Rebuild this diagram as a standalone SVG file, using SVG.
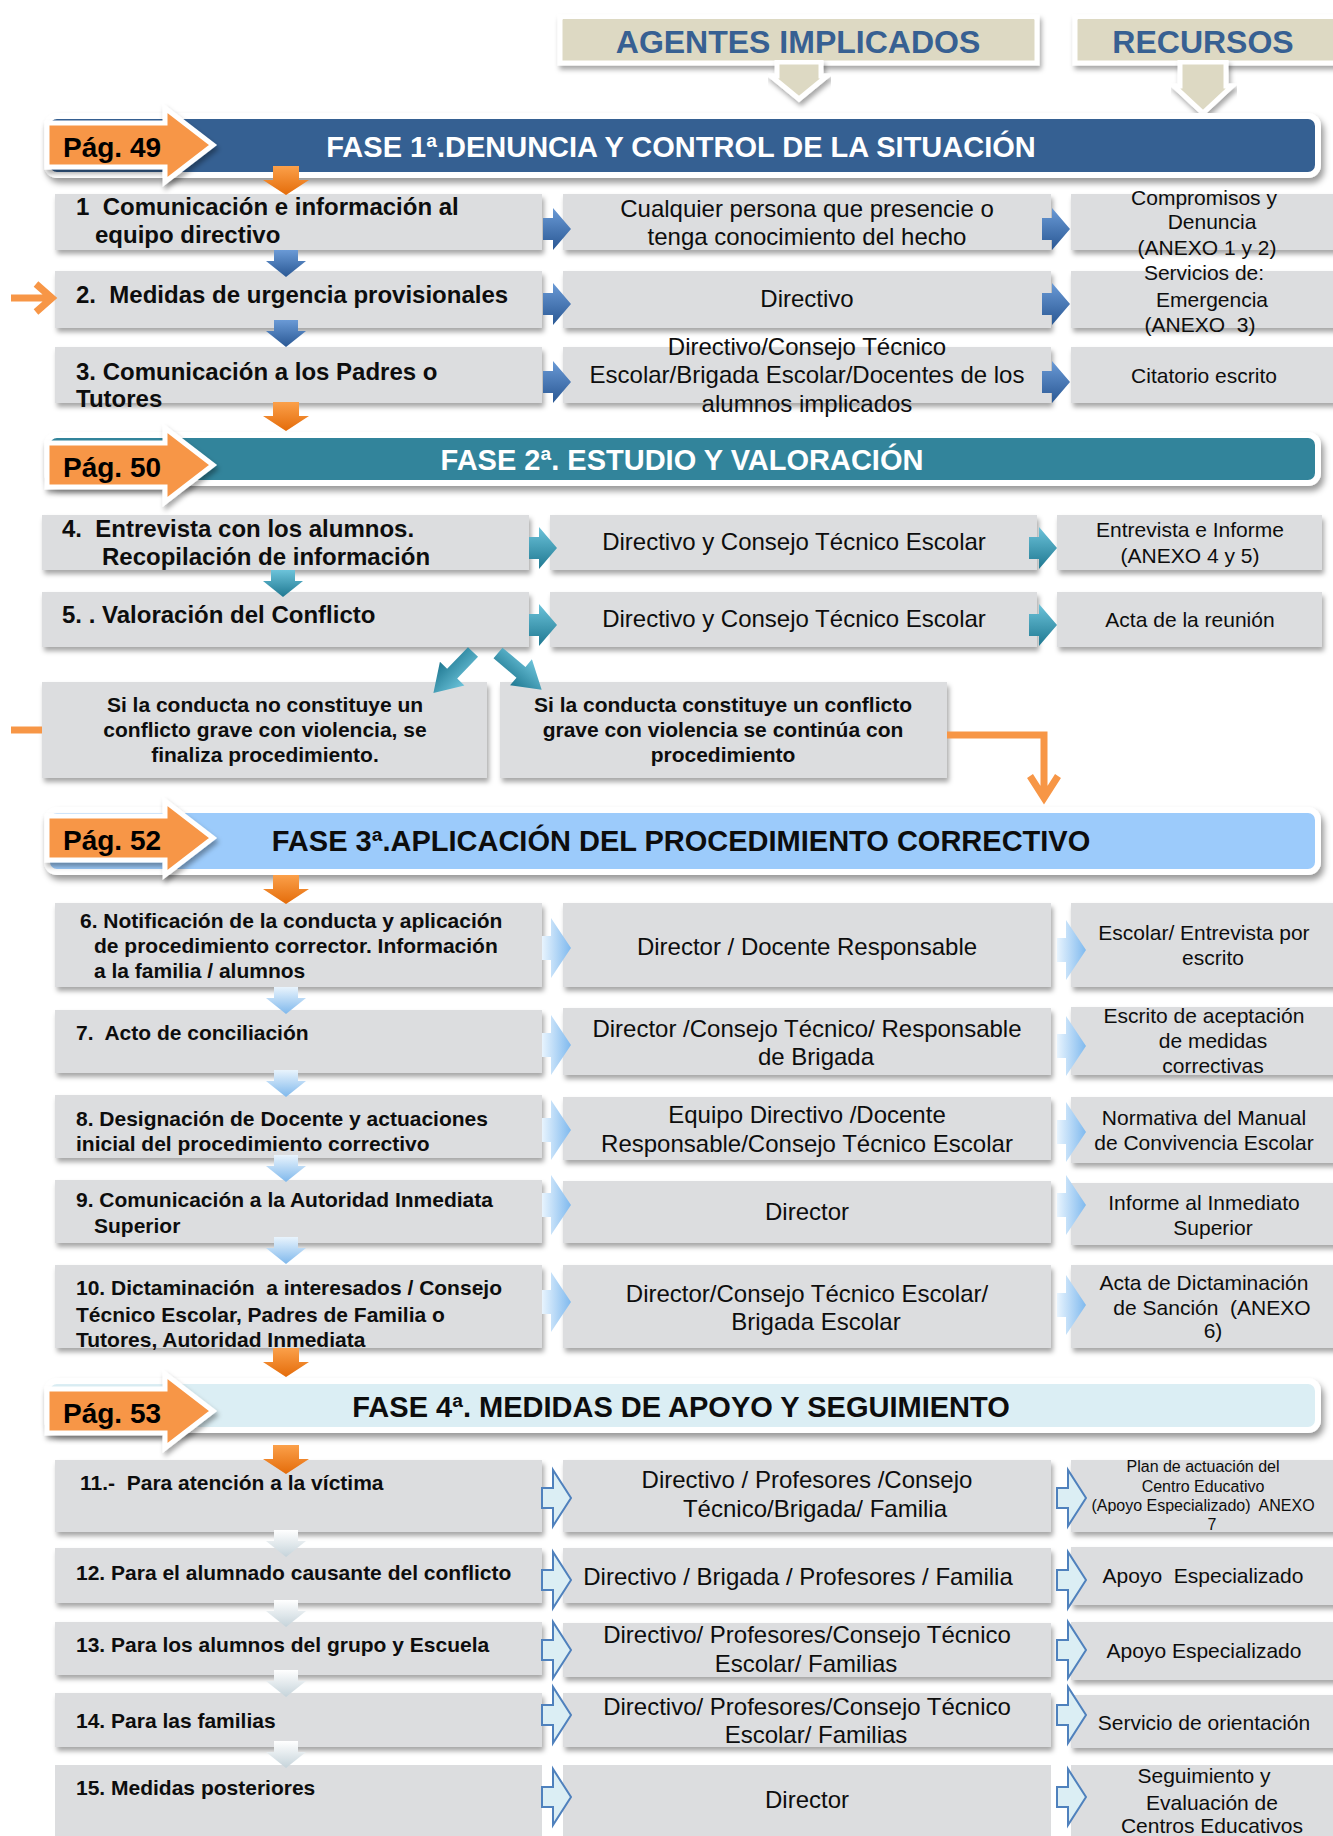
<svg xmlns="http://www.w3.org/2000/svg" width="1333" height="1836" viewBox="0 0 1333 1836" xml:space="preserve">
<style>
text{font-family:"Liberation Sans",Arial,sans-serif;fill:#0d0d0d;white-space:pre}
.b24{font-size:24px;font-weight:bold}
.b21{font-size:21px;font-weight:bold}
.m{font-size:24px;text-anchor:middle}
.r{font-size:21px;text-anchor:middle}
.r16{font-size:16px;text-anchor:middle}
.dc{font-size:21px;font-weight:bold;text-anchor:middle}
.ttl{font-size:29px;font-weight:bold;text-anchor:middle}
.pag{font-size:28px;font-weight:bold;fill:#000}
.hdr{font-size:32px;font-weight:bold;fill:#376092;text-anchor:middle}
.box{fill:#dcdddf}
.ban{stroke:#fff;stroke-width:6}
.hbox{fill:#ddd9c3;stroke:#fff;stroke-width:5}
.or{fill:none;stroke:#f79646;stroke-width:7}
</style>
<defs>
<filter id="sh" x="-5%" y="-20%" width="112%" height="160%"><feDropShadow dx="2" dy="4" stdDeviation="2.5" flood-color="#000" flood-opacity="0.35"/></filter>
<filter id="shb" x="-5%" y="-30%" width="112%" height="170%"><feDropShadow dx="3" dy="5" stdDeviation="3" flood-color="#000" flood-opacity="0.4"/></filter>
<linearGradient id="gBlue" x1="0" y1="0" x2="0" y2="1"><stop offset="0" stop-color="#6a9ad6"/><stop offset="1" stop-color="#2a5894"/></linearGradient>
<linearGradient id="gTeal" x1="0" y1="0" x2="0" y2="1"><stop offset="0" stop-color="#6cc3da"/><stop offset="1" stop-color="#1f7891"/></linearGradient>
<linearGradient id="gLb" x1="0" y1="0" x2="1" y2="0"><stop offset="0" stop-color="#e8f4fe"/><stop offset="1" stop-color="#7fb9ee"/></linearGradient>
<linearGradient id="gLbd" x1="0" y1="0" x2="0" y2="1"><stop offset="0" stop-color="#e9f4fd"/><stop offset="1" stop-color="#7fb8ec"/></linearGradient>
<linearGradient id="gOr" x1="0" y1="0" x2="0" y2="1"><stop offset="0" stop-color="#fba04a"/><stop offset="1" stop-color="#e46c0a"/></linearGradient>
<linearGradient id="gWh" x1="0" y1="0" x2="0" y2="1"><stop offset="0" stop-color="#ffffff"/><stop offset="1" stop-color="#c5d3da"/></linearGradient>
<path id="aR" d="M0,-11H10V-21L28,0L10,21V11H0Z"/>
<path id="aRt" d="M0,-12H9V-30L29,0L9,30V12H0Z"/>
<path id="aRo" d="M0,-10H11V-28L29,0L11,28V10H0Z"/>
<path id="aD" d="M-12,0H12V11H20L0,27L-20,11H-12Z"/>
<path id="aO" d="M-13,0H13V14H23L0,29L-23,14H-13Z"/>
<path id="aDg" d="M0,-7H30V-17L57,0L30,17V7H0Z"/>
<path id="pag" d="M0,-22H118V-37L166,0L118,37V22H0Z"/>
</defs>

<!-- headers -->
<g id="hdr-agentes">
<rect class="hbox" x="560" y="17" width="477" height="46" filter="url(#sh)"/>
<polygon class="hbox" points="777,62 821,62 821,76 827,76 799,99 771,76 777,76" stroke-width="4" filter="url(#sh)"/>
<rect x="563" y="19" width="471" height="41" fill="#ddd9c3"/>
<text class="hdr" x="798" y="53">AGENTES IMPLICADOS</text>
</g>
<g id="hdr-recursos">
<rect class="hbox" x="1075" y="17" width="275" height="46" filter="url(#sh)"/>
<polygon class="hbox" points="1180,62 1226,62 1226,86 1232,86 1203,113 1174,86 1180,86" stroke-width="4" filter="url(#sh)"/>
<rect x="1078" y="19" width="270" height="41" fill="#ddd9c3"/>
<text class="hdr" x="1203" y="53">RECURSOS</text>
</g>

<!-- FASE 1 -->
<g id="fase1">
<rect class="ban" x="47" y="116" width="1271" height="59" rx="10" fill="#366092" filter="url(#shb)"/>
<text class="ttl" x="681" y="157" style="fill:#fff">FASE 1ª.DENUNCIA Y CONTROL DE LA SITUACIÓN</text>
<use href="#pag" x="47" y="145" fill="#f79646" stroke="#fff" stroke-width="5" filter="url(#sh)"/>
<text class="pag" x="63" y="157">Pág. 49</text>
</g>
<g id="n1"><rect class="box" x="55" y="194" width="487" height="56" filter="url(#sh)"/>
<text class="b24" x="76" y="215">1  Comunicación e información al</text>
<text class="b24" x="95" y="243">equipo directivo</text></g>
<g id="n1a"><rect class="box" x="563" y="194" width="488" height="56" filter="url(#sh)"/>
<text class="m" x="807" y="217">Cualquier persona que presencie o</text>
<text class="m" x="807" y="245">tenga conocimiento del hecho</text></g>
<g id="n1r"><rect class="box" x="1071" y="194" width="280" height="56" filter="url(#sh)"/>
<text class="r" x="1204" y="205">Compromisos y</text>
<text class="r" x="1212" y="229">Denuncia</text>
<text class="r" x="1207" y="255">(ANEXO 1 y 2)</text></g>

<g id="n2"><rect class="box" x="55" y="271" width="487" height="57" filter="url(#sh)"/>
<text class="b24" x="76" y="303">2.  Medidas de urgencia provisionales</text></g>
<g id="n2a"><rect class="box" x="563" y="271" width="488" height="57" filter="url(#sh)"/>
<text class="m" x="807" y="307">Directivo</text></g>
<g id="n2r"><rect class="box" x="1071" y="271" width="280" height="57" filter="url(#sh)"/>
<text class="r" x="1204" y="280">Servicios de:</text>
<text class="r" x="1212" y="307">Emergencia</text>
<text class="r" x="1200" y="332">(ANEXO  3)</text></g>

<g id="n3"><rect class="box" x="55" y="347" width="487" height="56" filter="url(#sh)"/>
<text class="b24" x="76" y="380">3. Comunicación a los Padres o</text>
<text class="b24" x="76" y="407">Tutores</text></g>
<g id="n3a"><rect class="box" x="563" y="347" width="488" height="56" filter="url(#sh)"/>
<text class="m" x="807" y="355">Directivo/Consejo Técnico</text>
<text class="m" x="807" y="383">Escolar/Brigada Escolar/Docentes de los</text>
<text class="m" x="807" y="412">alumnos implicados</text></g>
<g id="n3r"><rect class="box" x="1071" y="347" width="280" height="56" filter="url(#sh)"/>
<text class="r" x="1204" y="383">Citatorio escrito</text></g>

<!-- FASE 2 -->
<g id="fase2">
<rect class="ban" x="47" y="435" width="1271" height="48" rx="10" fill="#31849b" filter="url(#shb)"/>
<text class="ttl" x="682" y="470" style="fill:#fff">FASE 2ª. ESTUDIO Y VALORACIÓN</text>
<use href="#pag" x="47" y="465" fill="#f79646" stroke="#fff" stroke-width="5" filter="url(#sh)"/>
<text class="pag" x="63" y="477">Pág. 50</text>
</g>
<g id="n4"><rect class="box" x="42" y="515" width="487" height="55" filter="url(#sh)"/>
<text class="b24" x="62" y="537">4.  Entrevista con los alumnos.</text>
<text class="b24" x="102" y="565">Recopilación de información</text></g>
<g id="n4a"><rect class="box" x="550" y="515" width="487" height="55" filter="url(#sh)"/>
<text class="m" x="794" y="550">Directivo y Consejo Técnico Escolar</text></g>
<g id="n4r"><rect class="box" x="1057" y="515" width="265" height="55" filter="url(#sh)"/>
<text class="r" x="1190" y="537">Entrevista e Informe</text>
<text class="r" x="1190" y="563">(ANEXO 4 y 5)</text></g>
<g id="n5"><rect class="box" x="42" y="592" width="487" height="55" filter="url(#sh)"/>
<text class="b24" x="62" y="623">5. . Valoración del Conflicto</text></g>
<g id="n5a"><rect class="box" x="550" y="592" width="487" height="55" filter="url(#sh)"/>
<text class="m" x="794" y="627">Directivo y Consejo Técnico Escolar</text></g>
<g id="n5r"><rect class="box" x="1057" y="592" width="265" height="55" filter="url(#sh)"/>
<text class="r" x="1190" y="627">Acta de la reunión</text></g>
<g id="d1"><rect class="box" x="42" y="682" width="445" height="96" filter="url(#sh)"/>
<text class="dc" x="265" y="712">Si la conducta no constituye un</text>
<text class="dc" x="265" y="737">conflicto grave con violencia, se</text>
<text class="dc" x="265" y="762">finaliza procedimiento.</text></g>
<g id="d2"><rect class="box" x="500" y="682" width="447" height="96" filter="url(#sh)"/>
<text class="dc" x="723" y="712">Si la conducta constituye un conflicto</text>
<text class="dc" x="723" y="737">grave con violencia se continúa con</text>
<text class="dc" x="723" y="762">procedimiento</text></g>

<!-- FASE 3 -->
<g id="fase3">
<rect class="ban" x="47" y="810" width="1271" height="62" rx="10" fill="#9ccbfb" filter="url(#shb)"/>
<text class="ttl" x="681" y="851">FASE 3ª.APLICACIÓN DEL PROCEDIMIENTO CORRECTIVO</text>
<use href="#pag" x="47" y="838" fill="#f79646" stroke="#fff" stroke-width="5" filter="url(#sh)"/>
<text class="pag" x="63" y="850">Pág. 52</text>
</g>
<g id="n6"><rect class="box" x="55" y="903" width="487" height="84" filter="url(#sh)"/>
<text class="b21" x="80" y="928">6. Notificación de la conducta y aplicación</text>
<text class="b21" x="94" y="953">de procedimiento corrector. Información</text>
<text class="b21" x="94" y="978">a la familia / alumnos</text></g>
<g id="n6a"><rect class="box" x="563" y="903" width="488" height="84" filter="url(#sh)"/>
<text class="m" x="807" y="955">Director / Docente Responsable</text></g>
<g id="n6r"><rect class="box" x="1071" y="903" width="280" height="84" filter="url(#sh)"/>
<text class="r" x="1204" y="940">Escolar/ Entrevista por</text>
<text class="r" x="1213" y="965">escrito</text></g>

<g id="n7"><rect class="box" x="55" y="1010" width="487" height="63" filter="url(#sh)"/>
<text class="b21" x="76" y="1040">7.  Acto de conciliación</text></g>
<g id="n7a"><rect class="box" x="563" y="1008" width="488" height="67" filter="url(#sh)"/>
<text class="m" x="807" y="1037">Director /Consejo Técnico/ Responsable</text>
<text class="m" x="816" y="1065">de Brigada</text></g>
<g id="n7r"><rect class="box" x="1071" y="1007" width="280" height="68" filter="url(#sh)"/>
<text class="r" x="1204" y="1023">Escrito de aceptación</text>
<text class="r" x="1213" y="1048">de medidas</text>
<text class="r" x="1213" y="1073">correctivas</text></g>

<g id="n8"><rect class="box" x="55" y="1095" width="487" height="63" filter="url(#sh)"/>
<text class="b21" x="76" y="1126">8. Designación de Docente y actuaciones</text>
<text class="b21" x="76" y="1151">inicial del procedimiento correctivo</text></g>
<g id="n8a"><rect class="box" x="563" y="1097" width="488" height="63" filter="url(#sh)"/>
<text class="m" x="807" y="1123">Equipo Directivo /Docente</text>
<text class="m" x="807" y="1152">Responsable/Consejo Técnico Escolar</text></g>
<g id="n8r"><rect class="box" x="1071" y="1097" width="280" height="66" filter="url(#sh)"/>
<text class="r" x="1204" y="1125">Normativa del Manual</text>
<text class="r" x="1204" y="1150">de Convivencia Escolar</text></g>

<g id="n9"><rect class="box" x="55" y="1180" width="487" height="63" filter="url(#sh)"/>
<text class="b21" x="76" y="1207">9. Comunicación a la Autoridad Inmediata</text>
<text class="b21" x="94" y="1233">Superior</text></g>
<g id="n9a"><rect class="box" x="563" y="1181" width="488" height="62" filter="url(#sh)"/>
<text class="m" x="807" y="1220">Director</text></g>
<g id="n9r"><rect class="box" x="1071" y="1183" width="280" height="62" filter="url(#sh)"/>
<text class="r" x="1204" y="1210">Informe al Inmediato</text>
<text class="r" x="1213" y="1235">Superior</text></g>

<g id="n10"><rect class="box" x="55" y="1265" width="487" height="83" filter="url(#sh)"/>
<text class="b21" x="76" y="1295">10. Dictaminación  a interesados / Consejo</text>
<text class="b21" x="76" y="1322">Técnico Escolar, Padres de Familia o</text>
<text class="b21" x="76" y="1347">Tutores, Autoridad Inmediata</text></g>
<g id="n10a"><rect class="box" x="563" y="1265" width="488" height="83" filter="url(#sh)"/>
<text class="m" x="807" y="1302">Director/Consejo Técnico Escolar/</text>
<text class="m" x="816" y="1330">Brigada Escolar</text></g>
<g id="n10r"><rect class="box" x="1071" y="1265" width="280" height="83" filter="url(#sh)"/>
<text class="r" x="1204" y="1290">Acta de Dictaminación</text>
<text class="r" x="1212" y="1315">de Sanción  (ANEXO</text>
<text class="r" x="1213" y="1338">6)</text></g>

<!-- FASE 4 -->
<g id="fase4">
<rect class="ban" x="47" y="1381" width="1271" height="49" rx="10" fill="#dbeef4" filter="url(#shb)"/>
<text class="ttl" x="681" y="1417">FASE 4ª. MEDIDAS DE APOYO Y SEGUIMIENTO</text>
<use href="#pag" x="47" y="1411" fill="#f79646" stroke="#fff" stroke-width="5" filter="url(#sh)"/>
<text class="pag" x="63" y="1423">Pág. 53</text>
</g>
<g id="n11"><rect class="box" x="55" y="1460" width="487" height="72" filter="url(#sh)"/>
<text class="b21" x="80" y="1490">11.-  Para atención a la víctima</text></g>
<g id="n11a"><rect class="box" x="563" y="1460" width="488" height="72" filter="url(#sh)"/>
<text class="m" x="807" y="1488">Directivo / Profesores /Consejo</text>
<text class="m" x="815" y="1517">Técnico/Brigada/ Familia</text></g>
<g id="n11r"><rect class="box" x="1071" y="1460" width="280" height="72" filter="url(#sh)"/>
<text class="r16" x="1203" y="1472">Plan de actuación del</text>
<text class="r16" x="1203" y="1492">Centro Educativo</text>
<text class="r16" x="1203" y="1511">(Apoyo Especializado)  ANEXO</text>
<text class="r16" x="1212" y="1530">7</text></g>

<g id="n12"><rect class="box" x="55" y="1548" width="487" height="55" filter="url(#sh)"/>
<text class="b21" x="76" y="1580">12. Para el alumnado causante del conflicto</text></g>
<g id="n12a"><rect class="box" x="563" y="1548" width="488" height="55" filter="url(#sh)"/>
<text class="m" x="798" y="1585">Directivo / Brigada / Profesores / Familia</text></g>
<g id="n12r"><rect class="box" x="1071" y="1547" width="280" height="58" filter="url(#sh)"/>
<text class="r" x="1203" y="1583">Apoyo  Especializado</text></g>

<g id="n13"><rect class="box" x="55" y="1622" width="487" height="53" filter="url(#sh)"/>
<text class="b21" x="76" y="1652">13. Para los alumnos del grupo y Escuela</text></g>
<g id="n13a"><rect class="box" x="563" y="1623" width="488" height="54" filter="url(#sh)"/>
<text class="m" x="807" y="1643">Directivo/ Profesores/Consejo Técnico</text>
<text class="m" x="806" y="1672">Escolar/ Familias</text></g>
<g id="n13r"><rect class="box" x="1071" y="1622" width="280" height="58" filter="url(#sh)"/>
<text class="r" x="1204" y="1658">Apoyo Especializado</text></g>

<g id="n14"><rect class="box" x="55" y="1693" width="487" height="54" filter="url(#sh)"/>
<text class="b21" x="76" y="1728">14. Para las familias</text></g>
<g id="n14a"><rect class="box" x="563" y="1693" width="488" height="54" filter="url(#sh)"/>
<text class="m" x="807" y="1715">Directivo/ Profesores/Consejo Técnico</text>
<text class="m" x="816" y="1743">Escolar/ Familias</text></g>
<g id="n14r"><rect class="box" x="1071" y="1695" width="280" height="53" filter="url(#sh)"/>
<text class="r" x="1204" y="1730">Servicio de orientación</text></g>

<g id="n15"><rect class="box" x="55" y="1765" width="487" height="90"/>
<text class="b21" x="76" y="1795">15. Medidas posteriores</text></g>
<g id="n15a"><rect class="box" x="563" y="1765" width="488" height="90"/>
<text class="m" x="807" y="1808">Director</text></g>
<g id="n15r"><rect class="box" x="1071" y="1765" width="280" height="90"/>
<text class="r" x="1204" y="1783">Seguimiento y</text>
<text class="r" x="1212" y="1810">Evaluación de</text>
<text class="r" x="1212" y="1833">Centros Educativos</text></g>

<!-- connectors -->
<g id="connectors">
<g fill="url(#gOr)">
<use href="#aO" x="286" y="166"/><use href="#aO" x="286" y="402"/><use href="#aO" x="286" y="875"/><use href="#aO" x="286" y="1348"/><use href="#aO" x="286" y="1445"/>
</g>
<g fill="url(#gBlue)">
<use href="#aD" x="286" y="250"/><use href="#aD" x="286" y="320"/>
<use href="#aR" x="543" y="229"/><use href="#aR" x="543" y="304"/><use href="#aR" x="543" y="382"/>
<use href="#aR" x="1042" y="229"/><use href="#aR" x="1042" y="304"/><use href="#aR" x="1042" y="382"/>
</g>
<g fill="url(#gTeal)">
<use href="#aD" x="283" y="570"/>
<use href="#aR" x="529" y="548"/><use href="#aR" x="529" y="625"/>
<use href="#aR" x="1029" y="548"/><use href="#aR" x="1029" y="625"/>
<use href="#aDg" transform="translate(473,652) rotate(134)"/>
<use href="#aDg" transform="translate(498,653) rotate(40)"/>
</g>
<g fill="url(#gLb)">
<use href="#aRt" x="542" y="948"/><use href="#aRt" x="542" y="1045"/><use href="#aRt" x="542" y="1130"/><use href="#aRt" x="542" y="1205"/><use href="#aRt" x="542" y="1302"/>
<use href="#aRt" x="1057" y="950"/><use href="#aRt" x="1057" y="1046"/><use href="#aRt" x="1057" y="1132"/><use href="#aRt" x="1057" y="1205"/><use href="#aRt" x="1057" y="1305"/>
</g>
<g fill="url(#gLbd)">
<use href="#aD" x="286" y="987"/><use href="#aD" x="286" y="1070"/><use href="#aD" x="286" y="1155"/><use href="#aD" x="286" y="1237"/>
</g>
<g fill="url(#gWh)">
<use href="#aD" x="286" y="1530"/><use href="#aD" x="286" y="1600"/><use href="#aD" x="286" y="1670"/><use href="#aD" x="286" y="1741"/>
</g>
<g fill="#dbeef4" stroke="#4f81bd" stroke-width="2">
<use href="#aRo" x="542" y="1498"/><use href="#aRo" x="542" y="1580"/><use href="#aRo" x="542" y="1650"/><use href="#aRo" x="542" y="1715"/><use href="#aRo" x="542" y="1797"/>
<use href="#aRo" x="1057" y="1498"/><use href="#aRo" x="1057" y="1580"/><use href="#aRo" x="1057" y="1650"/><use href="#aRo" x="1057" y="1715"/><use href="#aRo" x="1057" y="1797"/>
</g>
<path class="or" d="M11,298H50M36,284L52,298L36,312"/>
<path class="or" d="M11,730H42"/>
<path class="or" d="M947,735H1044V798M1030,776L1044,798L1058,776"/>
</g>
</svg>
